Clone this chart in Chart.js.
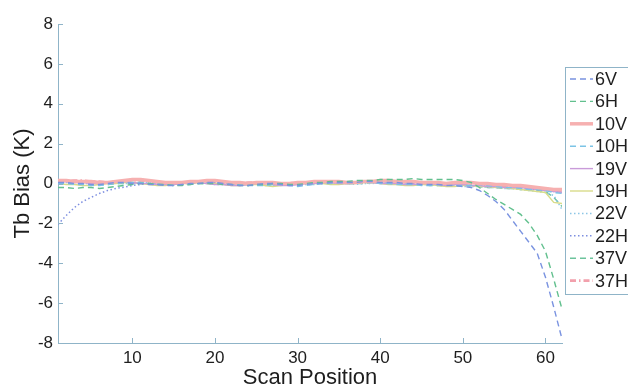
<!DOCTYPE html>
<html>
<head>
<meta charset="utf-8">
<script src="https://cdn.jsdelivr.net/npm/chart.js@4.4.1/dist/chart.umd.min.js"></script>
<style>
  html, body { margin: 0; padding: 0; background: #fff; }
  #wrap { width: 628px; height: 388px; position: relative; }
</style>
</head>
<body>
<div id="wrap"><canvas id="biasChart"></canvas></div>
<script>
// scan positions across the swath
const scanPos = [1,2,3,4,5,6,7,8,9,10,11,12,13,14,15,16,17,18,19,20,
    21,22,23,24,25,26,27,28,29,30,31,32,33,34,35,36,37,38,39,40,
    41,42,43,44,45,46,47,48,49,50,51,52,53,54,55,56,57,58,59,60,61,62];

const xTicks = [10, 20, 30, 40, 50, 60];
const yTicks = [-8, -6, -4, -2, 0, 2, 4, 6, 8];

const channels = ["6V", "6H", "10V", "10H", "19V", "19H", "22V", "22H", "37V", "37H"];

// Tb bias (K) per channel
const bias6V = [0.05,0.05,0.0,0.0,-0.05,-0.05,0.0,0.05,0.05,0.0,
    0.0,-0.05,-0.05,-0.1,-0.1,-0.05,0.0,0.0,0.05,0.05,
    0.0,-0.05,-0.1,-0.1,-0.05,0.0,0.0,-0.05,-0.1,-0.1,
    -0.05,0.0,0.0,0.05,0.05,0.05,0.05,0.1,0.1,0.05,
    0.05,0.05,0.0,0.0,-0.05,-0.05,-0.05,-0.1,-0.1,-0.15,
    -0.2,-0.35,-0.6,-0.9,-1.3,-1.85,-2.4,-2.95,-3.5,-4.7,
    -6.2,-7.8];
const bias6H = [-0.2,-0.2,-0.25,-0.2,-0.2,-0.25,-0.2,-0.15,-0.1,-0.05,
    0.0,0.0,-0.05,-0.05,-0.1,-0.1,-0.05,0.0,0.0,0.0,
    -0.05,-0.05,-0.1,-0.1,-0.05,-0.05,0.0,0.0,-0.05,-0.05,
    0.0,0.05,0.05,0.1,0.1,0.1,0.15,0.15,0.15,0.2,
    0.2,0.2,0.2,0.25,0.2,0.2,0.2,0.2,0.2,0.15,
    0.05,-0.2,-0.5,-0.8,-1.05,-1.3,-1.55,-2.0,-2.6,-3.4,
    -4.8,-6.3];
const bias10V = [0.15,0.15,0.1,0.1,0.1,0.05,0.05,0.1,0.15,0.2,
    0.2,0.15,0.1,0.05,0.05,0.05,0.1,0.1,0.15,0.15,
    0.1,0.05,0.05,0.0,0.05,0.05,0.05,0.0,0.0,0.05,
    0.05,0.1,0.1,0.1,0.1,0.05,0.05,0.1,0.1,0.15,
    0.15,0.1,0.1,0.1,0.05,0.05,0.05,0.0,0.05,0.05,
    0.05,0.0,0.0,-0.05,-0.05,-0.1,-0.1,-0.15,-0.2,-0.25,
    -0.3,-0.3];
const bias10H = [0.0,0.0,-0.05,-0.05,-0.1,-0.1,-0.05,0.0,0.05,0.05,
    0.05,0.0,-0.05,-0.05,-0.1,-0.05,-0.05,0.0,0.05,0.1,
    0.05,0.0,-0.05,-0.1,-0.1,-0.1,-0.05,-0.05,-0.1,-0.15,
    -0.1,-0.05,0.0,0.0,0.05,0.0,0.0,0.05,0.05,0.0,
    0.0,-0.05,-0.05,-0.05,-0.1,-0.1,-0.05,-0.05,-0.1,-0.1,
    -0.1,-0.05,-0.1,-0.15,-0.2,-0.2,-0.25,-0.3,-0.3,-0.35,
    -0.45,-0.5];
const bias19V = [0.05,0.1,0.05,0.05,0.0,0.0,0.05,0.1,0.1,0.05,
    0.0,0.0,-0.05,-0.05,-0.05,0.0,0.05,0.05,0.0,-0.05,
    -0.05,-0.1,-0.1,-0.05,0.0,0.0,-0.05,-0.1,-0.1,-0.05,
    0.0,0.0,0.05,0.05,0.0,0.0,0.05,0.1,0.05,0.0,
    0.0,0.0,-0.05,-0.05,0.0,0.0,-0.05,-0.1,-0.05,-0.05,
    -0.1,-0.1,-0.15,-0.15,-0.2,-0.2,-0.2,-0.25,-0.3,-0.35,
    -0.4,-0.45];
const bias19H = [0.0,-0.05,-0.05,-0.1,-0.1,-0.05,0.0,0.0,0.05,0.05,
    0.0,-0.05,-0.1,-0.1,-0.05,0.0,0.0,0.05,0.0,0.0,
    -0.05,-0.1,-0.1,-0.05,-0.05,-0.1,-0.15,-0.1,-0.05,-0.05,
    0.0,0.0,0.0,-0.05,-0.05,0.0,0.0,0.05,0.05,0.0,
    -0.05,-0.05,-0.1,-0.1,-0.05,-0.05,-0.1,-0.15,-0.15,-0.1,
    -0.1,-0.15,-0.15,-0.2,-0.2,-0.25,-0.3,-0.35,-0.4,-0.45,
    -0.95,-1.0];
const bias22V = [0.1,0.05,0.05,0.0,0.0,0.05,0.05,0.0,0.0,0.0,
    0.05,0.05,0.0,-0.05,-0.05,0.0,0.05,0.05,0.0,-0.05,
    -0.05,-0.05,0.0,0.0,-0.05,-0.1,-0.1,-0.05,0.0,0.0,
    -0.05,-0.05,0.0,0.05,0.05,0.0,-0.05,0.0,0.0,0.05,
    0.05,0.0,0.0,-0.05,-0.05,-0.05,-0.1,-0.1,-0.1,-0.15,
    -0.15,-0.15,-0.2,-0.2,-0.25,-0.25,-0.3,-0.35,-0.4,-0.45,
    -0.6,-1.3];
const bias22H = [-2.05,-1.6,-1.2,-0.9,-0.7,-0.5,-0.35,-0.25,-0.18,-0.1,
    -0.05,0.0,0.0,-0.05,-0.05,0.0,0.0,0.05,0.05,0.05,
    0.0,0.0,-0.05,-0.05,0.0,0.0,0.0,-0.05,-0.05,0.0,
    0.0,0.05,0.05,0.05,0.0,0.0,0.05,0.05,0.1,0.1,
    0.05,0.05,0.0,0.0,0.0,-0.05,-0.05,-0.05,-0.1,-0.1,
    -0.1,-0.15,-0.15,-0.2,-0.2,-0.25,-0.25,-0.3,-0.3,-0.35,
    -0.4,-0.45];
const bias37V = [0.0,0.0,0.05,0.05,0.0,-0.05,-0.05,0.0,0.0,0.05,
    0.05,0.0,0.0,-0.05,-0.05,-0.05,0.0,0.0,0.0,0.05,
    0.0,-0.05,-0.05,-0.1,-0.05,0.0,0.0,-0.05,-0.05,0.0,
    0.0,0.0,0.05,0.05,0.05,0.0,0.0,0.0,0.05,0.05,
    0.0,0.0,-0.05,-0.05,-0.05,-0.1,-0.1,-0.1,-0.15,-0.1,
    -0.1,-0.15,-0.2,-0.2,-0.25,-0.25,-0.3,-0.3,-0.35,-0.4,
    -0.7,-1.15];
const bias37H = [0.1,0.1,0.15,0.15,0.1,0.1,0.05,0.1,0.1,0.15,
    0.15,0.1,0.05,0.05,0.0,0.05,0.05,0.1,0.1,0.1,
    0.05,0.0,0.0,0.05,0.05,0.0,-0.05,-0.05,0.0,0.05,
    0.05,0.05,0.1,0.1,0.05,0.05,0.05,0.1,0.1,0.1,
    0.1,0.05,0.05,0.0,0.0,0.05,0.05,0.0,0.0,0.0,
    -0.05,-0.05,-0.1,-0.1,-0.15,-0.15,-0.2,-0.2,-0.25,-0.3,
    -0.35,-0.4];

const seriesValues = [bias6V, bias6H, bias10V, bias10H, bias19V, bias19H, bias22V, bias22H, bias37V, bias37H];

// line look per channel (matlab-ish palette)
const lineColors = ["#7a93e0", "#62c08e", "#f6b0b0", "#7cc4e6", "#c99bd9",
                    "#d8dc8a", "#8cc6e6", "#7d8ee0", "#6cc39c", "#f2a0ac"];
const lineDashes = [[6, 4], [6, 4], [], [6, 4], [], [], [1.5, 2.5], [1.5, 2.5], [6, 4], [6, 3, 1.5, 3]];
const lineWidths = [1.4, 1.4, 3.5, 1.4, 1.4, 1.4, 1.5, 1.5, 1.4, 2.6];

const axisColor = "#8fb4c8";
const textColor = "#1e1e1e";
const fontFamily = "'Liberation Sans', Arial, sans-serif";

const datasets = channels.map((name, i) => ({
    label: name,
    data: scanPos.map((x, j) => ({ x: x, y: seriesValues[i][j] })),
    borderColor: lineColors[i],
    borderDash: lineDashes[i],
    borderWidth: lineWidths[i],
    pointRadius: 0,
    fill: false,
    tension: 0,
}));

// MATLAB-style inward tick marks
const inwardTicks = {
    id: "inwardTicks",
    afterDraw(chart) {
        const ctx = chart.ctx;
        const xs = chart.scales.x, ys = chart.scales.y;
        const area = chart.chartArea;
        ctx.save();
        ctx.strokeStyle = axisColor;
        ctx.lineWidth = 1;
        ctx.beginPath();
        xTicks.forEach(v => {
            const px = Math.round(xs.getPixelForValue(v)) + 0.5;
            ctx.moveTo(px, area.bottom);
            ctx.lineTo(px, area.bottom - 5);
        });
        yTicks.forEach(v => {
            const py = Math.round(ys.getPixelForValue(v)) + 0.5;
            ctx.moveTo(area.left, py);
            ctx.lineTo(area.left + 5, py);
        });
        ctx.stroke();
        ctx.restore();
    }
};

// boxed legend at the right edge
const boxLegend = {
    id: "boxLegend",
    afterDraw(chart) {
        const ctx = chart.ctx;
        const left = 565, top = 67, rowH = 22.4, firstRow = 79;
        ctx.save();
        ctx.fillStyle = "#ffffff";
        ctx.fillRect(left, top, 80, 227);
        ctx.strokeStyle = axisColor;
        ctx.lineWidth = 1;
        ctx.strokeRect(left + 0.5, top + 0.5, 80, 227);
        ctx.font = "18px " + fontFamily;
        ctx.textBaseline = "middle";
        chart.data.datasets.forEach((ds, i) => {
            const y = firstRow + i * rowH;
            ctx.strokeStyle = ds.borderColor;
            ctx.lineWidth = ds.borderWidth;
            ctx.setLineDash(ds.borderDash);
            ctx.beginPath();
            ctx.moveTo(left + 5, y);
            ctx.lineTo(left + 28, y);
            ctx.stroke();
            ctx.setLineDash([]);
            ctx.fillStyle = textColor;
            ctx.fillText(ds.label, left + 30, y + 1);
        });
        ctx.restore();
    }
};

new Chart(document.getElementById("biasChart"), {
    type: "line",
    data: { datasets: datasets },
    plugins: [inwardTicks, boxLegend],
    options: {
        responsive: true,
        maintainAspectRatio: false,
        animation: false,
        layout: { padding: { top: 24, right: 66, bottom: 0, left: 0 } },
        plugins: {
            legend: { display: false },
            tooltip: { enabled: false },
        },
        scales: {
            x: {
                type: "linear",
                min: 1,
                max: 62,
                afterBuildTicks: scale => { scale.ticks = xTicks.map(v => ({ value: v })); },
                afterFit: scale => { scale.height = 45; },
                grid: { display: false, drawTicks: false },
                border: { display: true, color: axisColor, width: 1 },
                ticks: { color: textColor, font: { family: fontFamily, size: 17 }, padding: 5, maxRotation: 0 },
                title: {
                    display: true,
                    text: "Scan Position",
                    color: textColor,
                    font: { family: fontFamily, size: 22, lineHeight: 1 },
                    padding: { top: 0, bottom: -1 },
                },
            },
            y: {
                min: -8,
                max: 8,
                afterBuildTicks: scale => { scale.ticks = yTicks.map(v => ({ value: v })); },
                afterFit: scale => { scale.width = 58; },
                grid: { display: false, drawTicks: false },
                border: { display: true, color: axisColor, width: 1 },
                ticks: { color: textColor, font: { family: fontFamily, size: 17 }, padding: 5 },
                title: {
                    display: true,
                    text: "Tb Bias (K)",
                    color: textColor,
                    font: { family: fontFamily, size: 22, lineHeight: 1 },
                    padding: { top: 12, bottom: 0 },
                },
            },
        },
    },
});
</script>
</body>
</html>
